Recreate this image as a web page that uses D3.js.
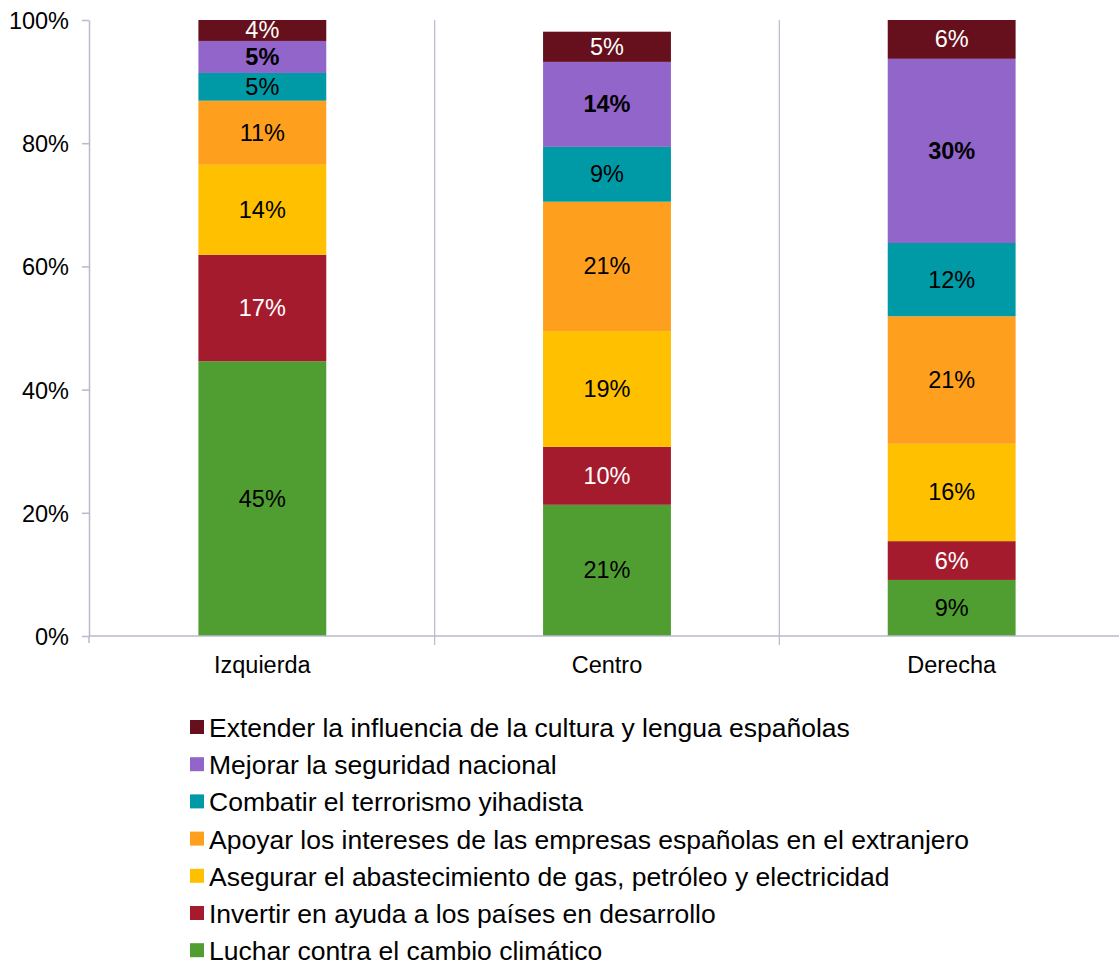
<!DOCTYPE html>
<html><head><meta charset="utf-8">
<script src="https://cdn.jsdelivr.net/npm/d3@7"></script>
<style>body{margin:0;background:#fff;font-family:"Liberation Sans",Arial,sans-serif}</style>
</head><body>
<svg id="c" width="1119" height="965"></svg>
<script>
const categories = ["Izquierda","Centro","Derecha"];
const seriesNames = ["Luchar contra el cambio climático","Invertir en ayuda a los países en desarrollo","Asegurar el abastecimiento de gas, petróleo y electricidad","Apoyar los intereses de las empresas españolas en el extranjero","Combatir el terrorismo yihadista","Mejorar la seguridad nacional","Extender la influencia de la cultura y lengua españolas"];
const seriesColors = ["#509e32","#a51b2e","#ffc000","#ff9f1e","#009aa6","#9265cb","#65101c"];
const labelColors = ["#000","#fff","#000","#000","#000","#000","#fff"];
const labelBold = [false,false,false,false,false,true,false];
// values per series: [Izquierda, Centro, Derecha]
const sClima = [44.6, 21.3, 9.1];
const sAyuda = [17.3, 9.4, 6.3];
const sGas = [14.6, 18.8, 15.8];
const sEmpresas = [10.4, 21.0, 20.7];
const sTerror = [4.5, 8.9, 11.9];
const sSeguridad = [5.2, 13.8, 29.9];
const sCultura = [3.4, 4.9, 6.3];
const sLabels = [["45%","21%","9%"],["17%","10%","6%"],["14%","19%","16%"],["11%","21%","21%"],["5%","9%","12%"],["5%","14%","30%"],["4%","5%","6%"]];
const yTicks = [0,20,40,60,80,100];

const series = [sClima,sAyuda,sGas,sEmpresas,sTerror,sSeguridad,sCultura];
const svg = d3.select("#c");
const L = 90, R = 1124, T = 20, B = 636;
const x = d3.scaleBand().domain(categories).range([L,R]).paddingInner(0.629).paddingOuter(0.3145);
const xb = d3.scaleBand().domain(categories).range([L,R]);
const y = d3.scaleLinear().domain([0,100]).range([B,T]);
const axisCol = "#b9b9cc";
const FS = 23.5;

// vertical gridlines at category boundaries
categories.slice(1).forEach(c=>{
  svg.append("line").attr("x1",xb(c)).attr("x2",xb(c)).attr("y1",T).attr("y2",B+9).attr("stroke",axisCol).attr("stroke-width",1.2);
});

// stacked
const rows = categories.map((c,i)=>{const o={cat:c}; series.forEach((s,j)=>o["s"+j]=s[i]); return o;});
const stack = d3.stack().keys(series.map((s,j)=>"s"+j))(rows);
stack.forEach((layer,j)=>{
  const g = svg.append("g");
  g.selectAll("rect").data(layer).join("rect")
    .attr("x",d=>x(d.data.cat)).attr("width",x.bandwidth())
    .attr("y",d=>y(d[1])).attr("height",d=>y(d[0])-y(d[1]))
    .attr("fill",seriesColors[j]);
  g.selectAll("text").data(layer).join("text")
    .attr("x",d=>x(d.data.cat)+x.bandwidth()/2)
    .attr("y",d=>(y(d[0])+y(d[1]))/2+8)
    .attr("text-anchor","middle").attr("font-size",FS)
    .attr("font-weight",labelBold[j]?"bold":"normal")
    .attr("fill",labelColors[j])
    .text((d,i)=>sLabels[j][i]);
});

// y axis
const ya = svg.append("g").attr("transform",`translate(${L-1},0)`)
  .call(d3.axisLeft(y).tickValues(yTicks).tickFormat(d=>d+"%").tickSize(7).tickSizeOuter(0));
ya.select(".domain").attr("stroke",axisCol).attr("stroke-width",1.5);
ya.selectAll(".tick line").attr("stroke",axisCol).attr("stroke-width",1.5);
ya.selectAll(".tick text").attr("font-size",FS).attr("font-family","Liberation Sans, Arial, sans-serif").attr("fill","#000").attr("x",-20).attr("dy","0.36em");

// x axis
svg.append("line").attr("x1",L-1).attr("x2",R).attr("y1",B).attr("y2",B).attr("stroke",axisCol).attr("stroke-width",1.5);
svg.append("line").attr("x1",L-1).attr("x2",L-1).attr("y1",B).attr("y2",B+7).attr("stroke",axisCol).attr("stroke-width",1.5);
categories.forEach(c=>{
  svg.append("text").attr("x",xb(c)+xb.bandwidth()/2).attr("y",B+37).attr("text-anchor","middle").attr("font-size",FS).text(c);
});

// legend (reverse order)
const legendOrder = d3.range(series.length).reverse();
legendOrder.forEach((j,k)=>{
  const yy = 728 + k*37.2;
  svg.append("rect").attr("x",190).attr("y",yy-8).attr("width",14).attr("height",14).attr("fill",seriesColors[j]);
  svg.append("text").attr("x",209).attr("y",yy+9).attr("font-size",26.5).text(seriesNames[j]);
});
</script>
</body></html>
